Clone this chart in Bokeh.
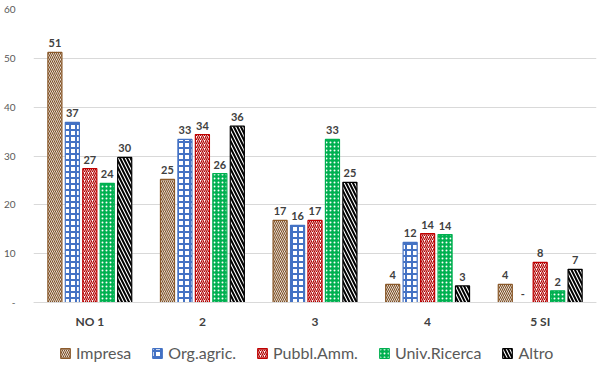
from bokeh.plotting import figure
from bokeh.models import ColumnDataSource, FactorRange, Range1d, Legend, LegendItem, FixedTicker
from bokeh.transform import dodge
from bokeh.core.properties import value
from bokeh.embed import file_html
from bokeh.resources import INLINE

categories = ["NO 1", "2", "3", "4", "5 SI"]
series = ["Impresa", "Org.agric.", "Pubbl.Amm.", "Univ.Ricerca", "Altro"]
impresa = [51.2, 25.2, 16.8, 3.7, 3.7]
org_agric = [36.9, 33.4, 15.8, 12.3, 0.0]
pubbl_amm = [27.4, 34.4, 16.8, 14.1, 8.2]
univ_ricerca = [24.4, 26.4, 33.4, 13.9, 2.4]
altro = [29.7, 36.1, 24.6, 3.4, 6.8]
y_ticks = [0, 10, 20, 30, 40, 50, 60]

values = [impresa, org_agric, pubbl_amm, univ_ricerca, altro]

def lab(v):
    return "-" if v == 0 else str(int(round(v)))

data = {"cat": categories}
for i, vals in enumerate(values):
    data[f"v{i}"] = vals
    data[f"l{i}"] = [lab(v) for v in vals]
src = ColumnDataSource(data)

styles = [
    dict(fill_color="white", line_color="#8B5A2B", hatch_color="#7A4A1E", hatch_pattern="left_diagonal_line", hatch_scale=4, hatch_weight=1.1),
    dict(fill_color="white", line_color="#4472C4", hatch_color="#4472C4", hatch_pattern="cross", hatch_scale=6, hatch_weight=2),
    dict(fill_color="white", line_color="#C00000", hatch_color="#B00000", hatch_pattern="right_diagonal_line", hatch_scale=4, hatch_weight=1.2),
    dict(fill_color="#00B050", line_color="#00B050", hatch_color="white", hatch_pattern="dot", hatch_scale=4, hatch_weight=1),
    dict(fill_color="white", line_color="#000000", hatch_color="#000000", hatch_pattern="left_diagonal_line", hatch_scale=7, hatch_weight=2),
]
offsets = [-0.31, -0.155, 0.0, 0.155, 0.31]

# frame spans down to the figure bottom so the legend can sit inside it;
# value 0 sits 68px above the frame bottom, 293px for 60 units above it
p = figure(frame_width=563, frame_height=361, x_range=FactorRange(*categories, range_padding=0),
           y_range=Range1d(-68 * 60 / 293, 60), output_backend="svg", toolbar_location=None,
           min_border_left=32, min_border_right=4, min_border_top=9, min_border_bottom=0)
p.outline_line_color = None
p.background_fill_color = "white"

items = []
for i, name in enumerate(series):
    r = p.vbar(x=dodge("cat", offsets[i], range=p.x_range), top=f"v{i}", width=0.125,
               source=src, line_width=1.2, **styles[i])
    items.append(LegendItem(label=name, renderers=[r]))
    p.text(x=dodge("cat", offsets[i], range=p.x_range), y=f"v{i}", text=f"l{i}", source=src,
           text_align="center", text_baseline="bottom", y_offset=-5,
           text_font=value("Lato"), text_font_size="11px", text_font_style="bold", text_color="#404040")

p.yaxis.ticker = FixedTicker(ticks=y_ticks)
p.yaxis.major_label_overrides = {0: "-"}
p.yaxis.axis_line_color = None
p.yaxis.major_tick_line_color = None
p.yaxis.minor_tick_line_color = None
p.yaxis.major_label_text_font = "Lato"
p.yaxis.major_label_text_font_size = "10px"
p.yaxis.major_label_text_color = "#595959"
p.yaxis.major_label_standoff = 12

p.xaxis.fixed_location = 0
p.xaxis.axis_line_color = "#D9D9D9"
p.xaxis.major_tick_line_color = None
p.xaxis.minor_tick_line_color = None
p.xaxis.major_label_text_font = "Lato"
p.xaxis.major_label_text_font_size = "12px"
p.xaxis.major_label_text_font_style = "bold"
p.xaxis.major_label_text_color = "#404040"
p.xaxis.major_label_standoff = 5

p.xgrid.grid_line_color = None
p.ygrid.grid_line_color = "#D9D9D9"
p.ygrid.ticker = FixedTicker(ticks=y_ticks)

legend = Legend(items=items, orientation="horizontal", location=(26, 8),
                label_text_font="Lato", label_text_font_size="16px", label_text_color="#595959",
                glyph_width=12, glyph_height=12, spacing=20, label_standoff=5,
                border_line_color=None, background_fill_alpha=0, padding=2, margin=0)
p.add_layout(legend, "center")

open("out.html", "w").write(file_html(p, INLINE))
